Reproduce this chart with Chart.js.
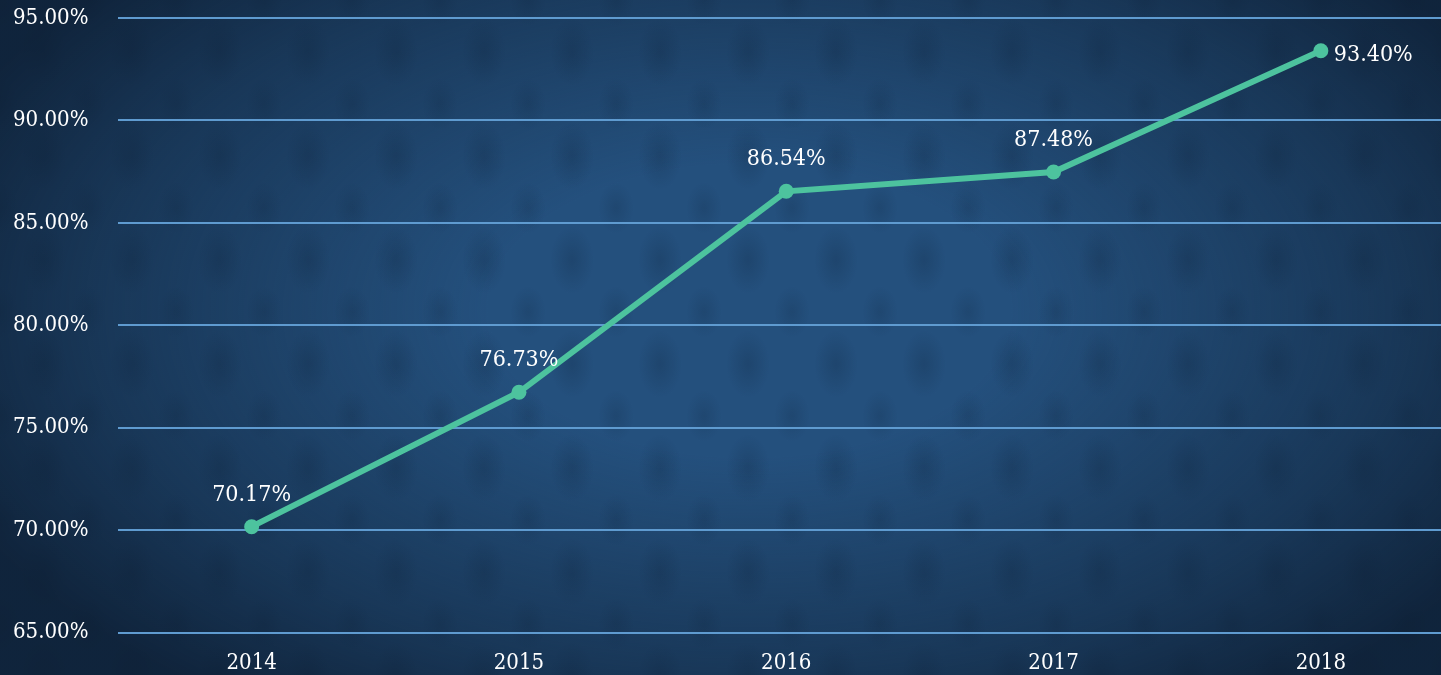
<!DOCTYPE html>
<html>
<head>
<meta charset="utf-8">
<script src="https://cdn.jsdelivr.net/npm/chart.js@4/dist/chart.umd.min.js"></script>
<style>
	html, body {
		margin: 0;
		padding: 0;
		width: 1441px;
		height: 675px;
		overflow: hidden;
	}
	body {
		background:
			radial-gradient(ellipse 60% 72% at 52% 46%, rgba(39,83,127,0) 0%, rgba(15,35,58,0) 30%, rgba(15,35,58,0.55) 75%, rgba(12,28,48,0.85) 100%),
			radial-gradient(ellipse 22px 34px at 50% 50%, rgba(10,30,55,0.22) 0%, rgba(10,30,55,0) 100%) 0 0 / 88px 104px,
			radial-gradient(ellipse 18px 26px at 50% 50%, rgba(10,30,55,0.18) 0%, rgba(10,30,55,0) 100%) 44px 52px / 88px 104px,
			#24507d;
	}
	#chart {
		position: absolute;
		left: 0;
		top: 0;
	}
</style>
</head>
<body>
<canvas id="chart" width="1462" height="675"></canvas>
<script>
	var years = ["2014", "2015", "2016", "2017", "2018"];
	var rates = [70.17, 76.73, 86.54, 87.48, 93.40];
	var labelSide = ["top", "top", "top", "top", "right"];
	var axisMin = 65;
	var axisMax = 95;
	var axisStep = 5;

	var fontFamily = "'DejaVu Serif Condensed', 'DejaVu Serif', serif";
	var lineColor = "#4dc39e";

	// rótulos dos pontos
	var pointLabels = {
		id: 'pointLabels',
		afterDatasetsDraw: function(chart) {
			var ctx = chart.ctx;
			var meta = chart.getDatasetMeta(0);
			ctx.save();
			ctx.font = "23px " + fontFamily;
			ctx.fillStyle = "#ffffff";
			ctx.textBaseline = "middle";
			meta.data.forEach(function(point, i) {
				var text = rates[i].toFixed(2) + "%";
				if (labelSide[i] === "right") {
					ctx.textAlign = "left";
					ctx.fillText(text, point.x + 13, point.y + 4);
				} else {
					ctx.textAlign = "center";
					ctx.fillText(text, point.x, point.y - 32);
				}
			});
			ctx.restore();
		}
	};

	var ctx = document.getElementById("chart");
	var chart = new Chart(ctx, {
		type: 'line',
		data: {
			labels: years,
			datasets: [{
				data: rates,
				borderColor: lineColor,
				backgroundColor: lineColor,
				borderWidth: 6,
				pointRadius: 7.5,
				pointBackgroundColor: lineColor,
				pointBorderWidth: 0,
				tension: 0,
				fill: false
			}]
		},
		options: {
			responsive: false,
			animation: false,
			layout: {
				padding: { left: 13, right: 0, top: 18, bottom: -18 }
			},
			plugins: {
				legend: { display: false },
				tooltip: { enabled: false }
			},
			scales: {
				x: {
					offset: true,
					grid: { display: false, drawTicks: false },
					border: { display: false },
					ticks: {
						color: "#ffffff",
						padding: 17,
						font: { family: fontFamily, size: 22 }
					}
				},
				y: {
					min: axisMin,
					max: axisMax,
					afterFit: function(scale) {
						scale.width = 105;
					},
					grid: {
						color: "#5f9bd0",
						lineWidth: 2,
						drawTicks: false
					},
					border: { display: false },
					ticks: {
						stepSize: axisStep,
						color: "#ffffff",
						padding: 0,
						crossAlign: 'far',
						font: { family: fontFamily, size: 22 },
						callback: function(value) {
							return value.toFixed(2) + "%";
						}
					}
				}
			}
		},
		plugins: [pointLabels]
	});
</script>
</body>
</html>
